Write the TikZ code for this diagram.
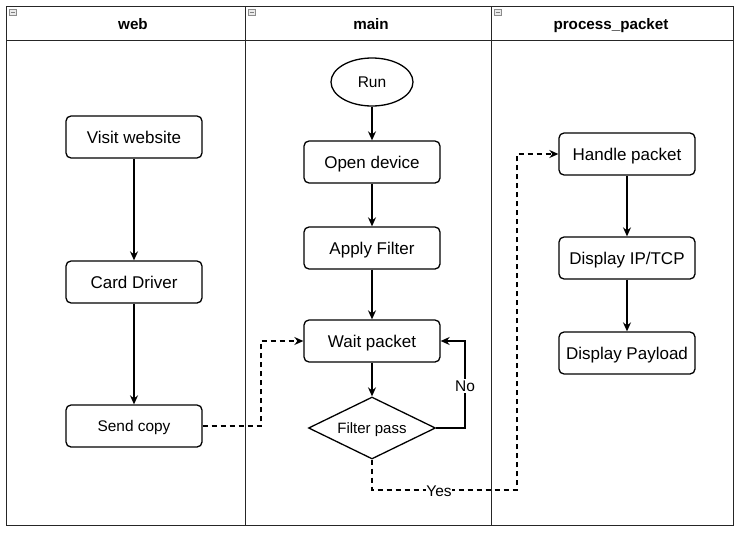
\documentclass[tikz,border=0pt]{standalone}
\usepackage{fontspec}
\setmainfont{Liberation Sans}
\usetikzlibrary{shapes.geometric,arrows.meta}
\begin{document}
\begin{tikzpicture}[x=1pt,y=-1pt,
  lane/.style={draw=black!85,line width=1pt},
  icon/.style={draw=black!45,fill=black!8,line width=0.5pt},
  hdr/.style={font=\bfseries\fontsize{15.2}{17}\selectfont,text height=11pt,text depth=0pt},
  box/.style={draw,line width=1.3pt,rounded corners=5pt,minimum width=136pt,minimum height=42pt,inner sep=0pt,font=\fontsize{17}{19}\selectfont,text height=12.3pt,text depth=0pt},
  flow/.style={line width=1.3pt,-{Stealth[length=9pt,width=8pt,inset=3pt]}},
  dflow/.style={flow,dash pattern=on 5pt off 4pt},
  lbl/.style={fill=white,inner sep=1.5pt,font=\fontsize{15.5}{17}\selectfont}]
\useasboundingbox (0,0) rectangle (737,533);
% lanes
\draw[lane] (6,6) rectangle (733,525);
\draw[lane] (6,40) -- (733,40);
\draw[lane] (245,6) -- (245,525);
\draw[lane] (491,6) -- (491,525);
\foreach \x in {9,248,494}{
  \draw[icon] (\x,9) rectangle ++(7,6);
  \draw[black!50,line width=0.5pt] (\x+1.5,12) -- (\x+5.5,12);
}
\node[hdr] (hweb) at (133,24) {web};
\node[hdr] (hmain) at (371,24) {main};
\node[hdr] (hproc) at (611,24) {process\_packet};
% web lane
\node[box] (visit) at (134,137) {Visit website};
\node[box] (card) at (134,282) {Card Driver};
\node[box,font=\fontsize{15.4}{17}\selectfont,text height=11.1pt] (send) at (134,426) {Send copy};
% main lane
\node[draw,ellipse,line width=1.3pt,minimum width=82pt,minimum height=48pt,inner sep=0pt,font=\fontsize{15.5}{17}\selectfont,text height=11.2pt,text depth=0pt] (run) at (372,82) {Run};
\node[box] (open) at (372,162) {Open device};
\node[box] (apply) at (372,248) {Apply Filter};
\node[box] (wait) at (372,341) {Wait packet};
\node[draw,diamond,aspect=2.05,line width=1.3pt,minimum width=127pt,minimum height=62pt,inner sep=0pt,font=\fontsize{15}{17}\selectfont,text height=10.8pt,text depth=0pt] (filter) at (372,428) {Filter pass};
% process lane
\node[box] (handle) at (627,154) {Handle packet};
\node[box] (disp) at (627,258) {Display IP/TCP};
\node[box] (payload) at (627,353) {Display Payload};
% connectors
\draw[flow] (visit) -- (card);
\draw[flow] (card) -- (send);
\draw[flow] (run) -- (open);
\draw[flow] (open) -- (apply);
\draw[flow] (apply) -- (wait);
\draw[flow] (wait) -- (filter);
\draw[flow] (handle) -- (disp);
\draw[flow] (disp) -- (payload);
\draw[dflow] (send.east) -- (261,426) -- (261,341) -- (wait.west);
\draw[flow] (filter.east) -- (465,428) -- (465,341) -- (wait.east);
\node[lbl,text height=11.2pt,text depth=0pt] (no) at (465,386) {No};
\draw[dflow] (filter.south) -- (372,490) -- (517,490) -- (517,154) -- (handle.west);
\node[lbl,inner sep=0.5pt,text height=11.2pt,text depth=0pt] (yes) at (439,491) {Yes};
\end{tikzpicture}
\end{document}
